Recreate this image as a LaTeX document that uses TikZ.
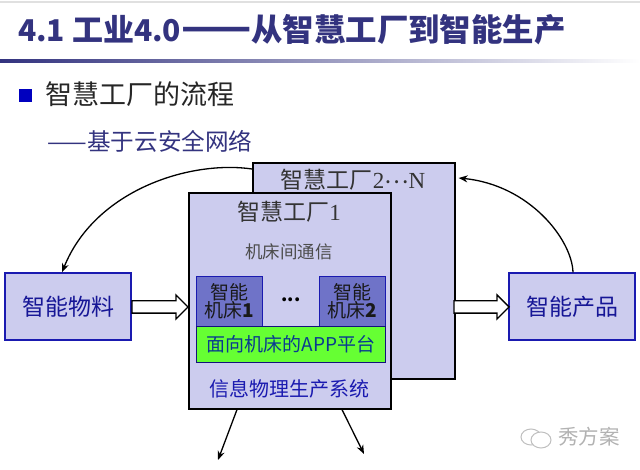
\documentclass[tikz,border=0pt]{standalone}
\usepackage{fontspec}
\setmainfont{Noto Sans CJK SC}
\newfontfamily\serifpart{Liberation Serif}
\usetikzlibrary{arrows.meta,positioning,shapes.arrows}
\definecolor{navyt}{HTML}{33337F}
\definecolor{boxf}{HTML}{CCCCEE}
\definecolor{toolf}{HTML}{6F73C8}
\definecolor{edgeb}{HTML}{1A1AB0}
\definecolor{appg}{HTML}{66FF33}
\definecolor{apptext}{HTML}{0A3A90}
\newcommand{\px}[1]{\fontsize{#1}{#1}\selectfont}
\tikzset{
  factorybox/.style={draw=black,line width=1.6pt,fill=boxf,minimum width=202pt,minimum height=216pt,inner sep=0pt,anchor=north west},
  sidebox/.style={draw=edgeb,line width=1.4pt,fill=boxf,minimum width=126pt,minimum height=67pt,inner sep=0pt,text=edgeb!85!black},
  toolbox/.style={draw=edgeb,line width=1.2pt,fill=toolf,minimum width=66pt,minimum height=50pt,inner sep=0pt,align=center,text=black!90,anchor=north west},
  flowarrow/.style={-{Stealth[length=9pt,width=7pt]},line width=1.3pt,black},
  bigarrow/.style={single arrow,draw=black,line width=1.3pt,fill=white,inner xsep=0pt,inner ysep=5.5pt,minimum width=23pt,single arrow head extend=6pt,single arrow head indent=0pt},
}
\begin{document}
\begin{tikzpicture}[x=1pt,y=-1pt]
\useasboundingbox (0,0) rectangle (640,470);
% header
\fill[black!12] (0,1) rectangle (640,3);
\node (title) [anchor=west,text=navyt,font=\px{30}\bfseries,inner sep=0pt] at (18,30) {4.1 {\px{31}工业}4.0{\px{41}——}{\px{31.4}从智慧工厂到智能生产}};
\shade[left color=navyt,right color=white] (0,60) rectangle (640,63);
\fill[blue!75!black] (19,89) rectangle (32,102);
\node (head) [anchor=west,text=black!85,font=\px{27},inner sep=0pt] at (45,94) {智慧工厂的流程};
\node (sub) [anchor=west,text=navyt,font=\px{23.6},inner sep=0pt] at (47.5,141) {——基于云安全网络};
% factories
\node (plantN) [factorybox] at (252,162) {};
\node (plantNt) [font=\px{23},text=black!80] at (353,180) {智慧工厂{\serifpart 2}\raisebox{5pt}{⋯}{\serifpart N}};
\node (plant1) [factorybox] at (188,192) {};
\node (plant1t) [font=\px{23},text=black!80] at (289,212) {智慧工厂{\serifpart 1}};
\node (comm) [font=\px{17.5},text=black!70] at (289,252) {机床间通信};
% machine tools
\node (tool1) [toolbox,font=\px{19}] at (196,276) {智能\\[-1pt]机床\textbf{1}};
\node (tool2) [toolbox,font=\px{19}] at (319,276) {智能\\[-1pt]机床\textbf{2}};
\node (dots) [font=\px{18}\bfseries] at (291,300) {...};
\node (app) [draw=edgeb!70!black,line width=1.2pt,fill=appg,minimum width=189pt,minimum height=36pt,inner sep=0pt,anchor=north west,text=apptext,font=\px{19}] at (196,326) {面向机床的APP平台};
\node (cps) [font=\px{20},text=edgeb] at (289,389) {信息物理生产系统};
% side boxes
\node (material) [sidebox,font=\px{23}] at (68,306.5) {智能物料};
\node (product) [sidebox,font=\px{23}] at (572,306.5) {智能产品};
% connectors
\coordinate (outa) at (218,460);
\coordinate (outb) at (364,454);
\node (feedin) [bigarrow,minimum height=56pt] at (157,307) {};
\node (feedout) [bigarrow,minimum height=55pt] at (478.5,307) {};
\draw[flowarrow] (plantN.west |- 0,169) .. controls (190,160) and (95,190) .. (material.north -| 62,0);
\draw[flowarrow] (product.north -| 573,0) .. controls (572,240) and (530,185) .. ([xshift=3pt]plantN.east |- 0,178);
\draw[flowarrow] (plant1.south -| 237,0) -- (outa);
\draw[flowarrow] (plant1.south -| 342,0) -- (outb);
% watermark
\draw[black!25,line width=1pt] (531,437) ellipse (10pt and 8pt);
\draw[black!25,fill=white,line width=1pt] (541,440) ellipse (10pt and 8pt);
\node (mark) [font=\px{20.5},text=black!30] at (589,437) {秀方案};
\end{tikzpicture}
\end{document}
